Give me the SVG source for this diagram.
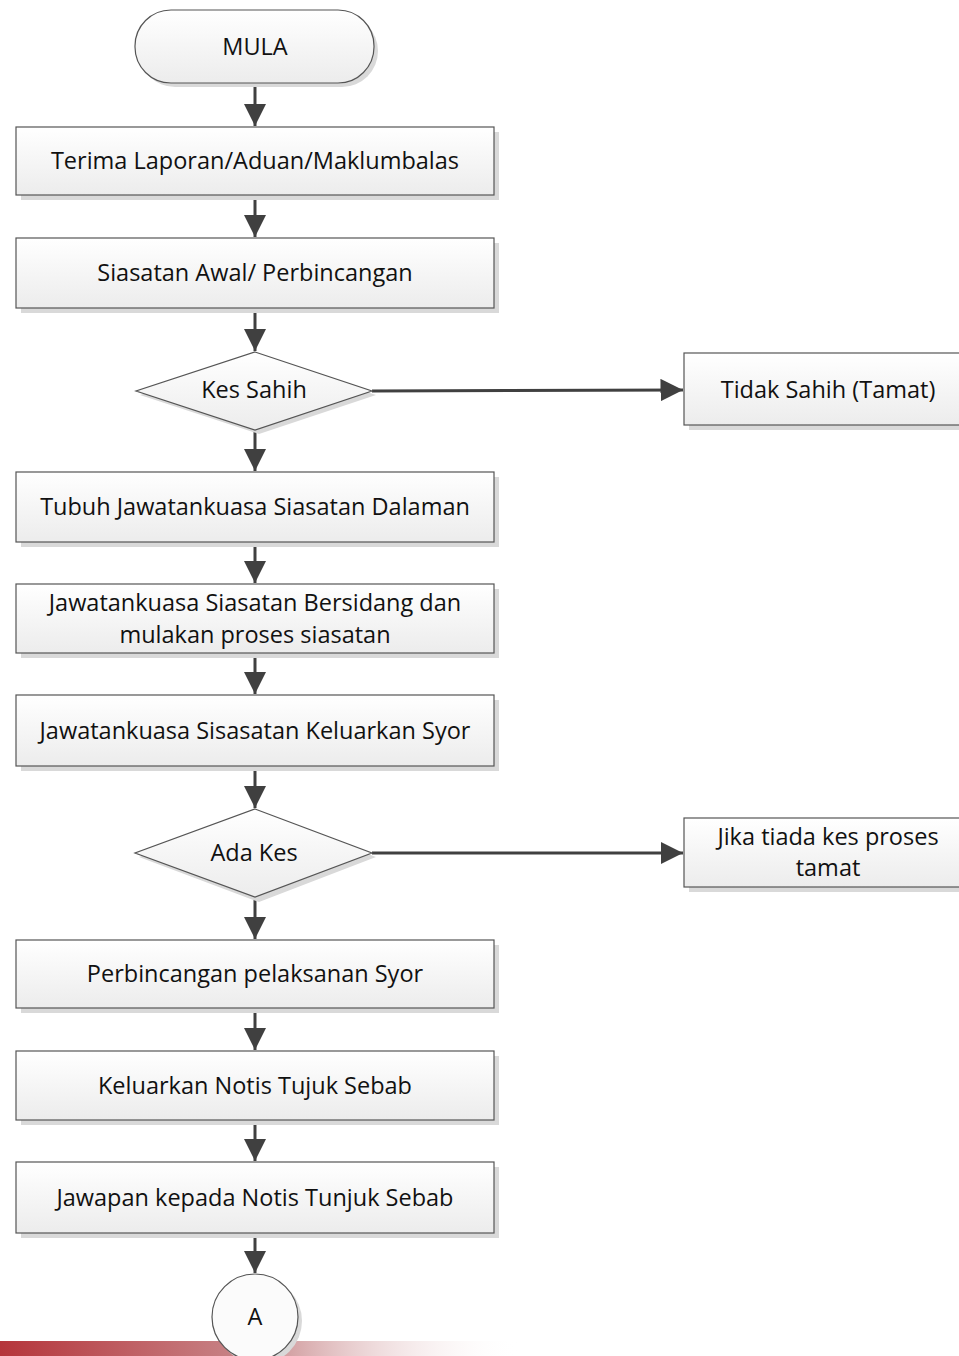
<svg xmlns="http://www.w3.org/2000/svg" width="959" height="1356" viewBox="0 0 959 1356">
<defs>
<linearGradient id="fill" x1="0" y1="0" x2="0" y2="1"><stop offset="0" stop-color="#ffffff"/><stop offset="1" stop-color="#ececec"/></linearGradient>
<linearGradient id="bar" x1="0" y1="0" x2="1" y2="0"><stop offset="0" stop-color="#b5353b"/><stop offset="0.5" stop-color="#c98a8d"/><stop offset="1" stop-color="#ffffff" stop-opacity="0"/></linearGradient>
<marker id="ah" viewBox="0 0 10 10" refX="10" refY="5" markerWidth="7.5" markerHeight="7.5" markerUnits="strokeWidth" orient="auto"><path d="M0,0 L10,5 L0,10 Z" fill="#404040"/></marker>
<style>
.shape{fill:url(#fill);stroke:#555;stroke-width:1.2}
.shadow{fill:#d9d9d9}
.t{font-family:"Open Sans","Noto Sans",sans-serif;font-size:23.5px;fill:#111;text-anchor:middle}
.c{stroke:#404040;stroke-width:3;fill:none;marker-end:url(#ah)}
</style>
</defs>
<rect x="0" y="1341" width="520" height="15" fill="url(#bar)"/>
<g id="connectors">
<line class="c" x1="255" y1="83" x2="255" y2="126"/>
<line class="c" x1="255" y1="195" x2="255" y2="237"/>
<line class="c" x1="255" y1="308" x2="255" y2="351"/>
<line class="c" x1="372" y1="391" x2="683" y2="390"/>
<line class="c" x1="255" y1="430" x2="255" y2="471"/>
<line class="c" x1="255" y1="542" x2="255" y2="583"/>
<line class="c" x1="255" y1="653" x2="255" y2="694"/>
<line class="c" x1="255" y1="766" x2="255" y2="808"/>
<line class="c" x1="372" y1="853" x2="683" y2="853"/>
<line class="c" x1="255" y1="897" x2="255" y2="939"/>
<line class="c" x1="255" y1="1008" x2="255" y2="1050"/>
<line class="c" x1="255" y1="1120" x2="255" y2="1161"/>
<line class="c" x1="255" y1="1233" x2="255" y2="1273"/>
</g>
<g id="mula">
<rect class="shadow" x="139" y="15" width="239" height="72" rx="36"/>
<rect class="shape" x="135" y="10" width="239" height="73" rx="36"/>
<text class="t" x="255" y="55">MULA</text>
</g>
<g id="terima">
<rect class="shadow" x="21" y="132" width="478" height="68"/>
<rect class="shape" x="16" y="127" width="478" height="68"/>
<text class="t" x="255" y="169">Terima Laporan/Aduan/Maklumbalas</text>
</g>
<g id="siasatan-awal">
<rect class="shadow" x="21" y="243" width="478" height="70"/>
<rect class="shape" x="16" y="238" width="478" height="70"/>
<text class="t" x="255" y="281">Siasatan Awal/ Perbincangan</text>
</g>
<g id="kes-sahih">
<polygon class="shadow" points="259,357 376,395 259,434 140,395"/>
<polygon class="shape" points="255,352 372,391 255,430 136,391"/>
<text class="t" x="254" y="398">Kes Sahih</text>
</g>
<g id="tidak-sahih">
<rect class="shadow" x="689" y="358" width="290" height="72"/>
<rect class="shape" x="684" y="353" width="290" height="72"/>
<text class="t" x="828" y="398">Tidak Sahih (Tamat)</text>
</g>
<g id="tubuh">
<rect class="shadow" x="21" y="477" width="478" height="70"/>
<rect class="shape" x="16" y="472" width="478" height="70"/>
<text class="t" x="255" y="515">Tubuh Jawatankuasa Siasatan Dalaman</text>
</g>
<g id="bersidang">
<rect class="shadow" x="21" y="589" width="478" height="69"/>
<rect class="shape" x="16" y="584" width="478" height="69"/>
<text class="t" x="255" y="611">Jawatankuasa Siasatan Bersidang dan</text>
<text class="t" x="255" y="643">mulakan proses siasatan</text>
</g>
<g id="syor">
<rect class="shadow" x="21" y="700" width="478" height="71"/>
<rect class="shape" x="16" y="695" width="478" height="71"/>
<text class="t" x="255" y="739">Jawatankuasa Sisasatan Keluarkan Syor</text>
</g>
<g id="ada-kes">
<polygon class="shadow" points="259,814 376,857 259,902 139,857"/>
<polygon class="shape" points="255,809 372,853 255,897 135,853"/>
<text class="t" x="254" y="861">Ada Kes</text>
</g>
<g id="jika-tiada">
<rect class="shadow" x="689" y="823" width="290" height="69"/>
<rect class="shape" x="684" y="818" width="290" height="69"/>
<text class="t" x="828" y="845">Jika tiada kes proses</text>
<text class="t" x="828" y="876">tamat</text>
</g>
<g id="perbincangan">
<rect class="shadow" x="21" y="945" width="478" height="68"/>
<rect class="shape" x="16" y="940" width="478" height="68"/>
<text class="t" x="255" y="982">Perbincangan pelaksanan Syor</text>
</g>
<g id="notis">
<rect class="shadow" x="21" y="1056" width="478" height="69"/>
<rect class="shape" x="16" y="1051" width="478" height="69"/>
<text class="t" x="255" y="1094">Keluarkan Notis Tujuk Sebab</text>
</g>
<g id="jawapan">
<rect class="shadow" x="21" y="1167" width="478" height="71"/>
<rect class="shape" x="16" y="1162" width="478" height="71"/>
<text class="t" x="255" y="1206">Jawapan kepada Notis Tunjuk Sebab</text>
</g>
<g id="a">
<circle class="shadow" cx="259" cy="1321" r="43"/>
<circle class="shape" cx="255" cy="1317" r="43" style="fill:#fbfbfb"/>
<text class="t" x="255" y="1325">A</text>
</g>
</svg>
